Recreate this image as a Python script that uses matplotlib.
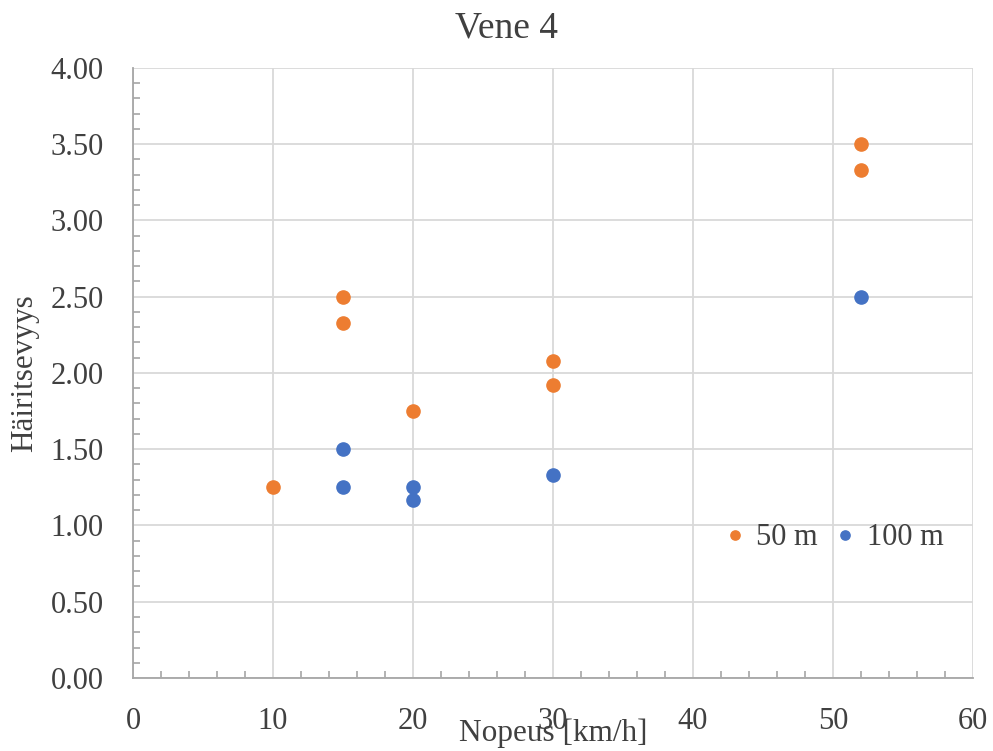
import matplotlib.pyplot as plt
from matplotlib.ticker import MultipleLocator, FormatStrFormatter

plt.rcParams['font.family'] = ['Liberation Serif', 'DejaVu Serif']

# speeds [km/h] and disturbance scores
x_50 = [10, 15, 15, 20, 30, 30, 52, 52]
y_50 = [1.25, 2.50, 2.33, 1.75, 2.08, 1.92, 3.50, 3.33]
x_100 = [15, 15, 20, 20, 30, 52]
y_100 = [1.50, 1.25, 1.25, 1.17, 1.33, 2.50]

orange = '#ED7D31'
blue = '#4472C4'
txt = '#404040'

fig = plt.figure(figsize=(9.93, 7.51), dpi=100)
ax = fig.add_axes([0.1339, 0.0972, 0.8460, 0.8123])

ax.plot(x_50, y_50, 'o', color=orange, markersize=9.5, label='50 m', zorder=3)
ax.plot(x_100, y_100, 'o', color=blue, markersize=9.5, label='100 m', zorder=3)

ax.set_xlim(0, 60)
ax.set_ylim(0, 4)
ax.xaxis.set_major_locator(MultipleLocator(10))
ax.xaxis.set_minor_locator(MultipleLocator(2))
ax.yaxis.set_major_locator(MultipleLocator(0.5))
ax.yaxis.set_minor_locator(MultipleLocator(0.1))
ax.yaxis.set_major_formatter(FormatStrFormatter('%.2f'))

ax.grid(True, which='major', color='#d9d9d9', linewidth=1.3)
ax.set_axisbelow(True)
for s in ['top', 'right']:
    ax.spines[s].set_visible(False)
for s in ['left', 'bottom']:
    ax.spines[s].set_color('#a6a6a6')
    ax.spines[s].set_linewidth(1.3)

ax.tick_params(which='major', length=0, labelsize=22, labelcolor=txt)
ax.tick_params(axis='x', which='major', pad=21)
ax.tick_params(axis='y', which='major', pad=21)
ax.tick_params(which='minor', direction='in', length=5, width=1.2, color='#a6a6a6')

ax.set_title('Vene 4', fontsize=27, color=txt, pad=22, x=0.445)
ax.set_xlabel('Nopeus [km/h]', fontsize=22.5, color=txt)
ax.set_ylabel('Häiritsevyys', fontsize=22.5, color=txt)
ax.xaxis.set_label_coords(0.5, -0.09)
ax.yaxis.set_label_coords(-0.1286, 0.5)
ax.xaxis.label.set_va('center')
ax.yaxis.label.set_va('center')

ax.legend(loc='center', bbox_to_anchor=(0.835, 0.2295), ncol=2, frameon=False,
          fontsize=22, markerscale=0.7, handlelength=0.6, handletextpad=0.4,
          columnspacing=0.6, labelcolor=txt)

fig.savefig('out.png', dpi=100)
